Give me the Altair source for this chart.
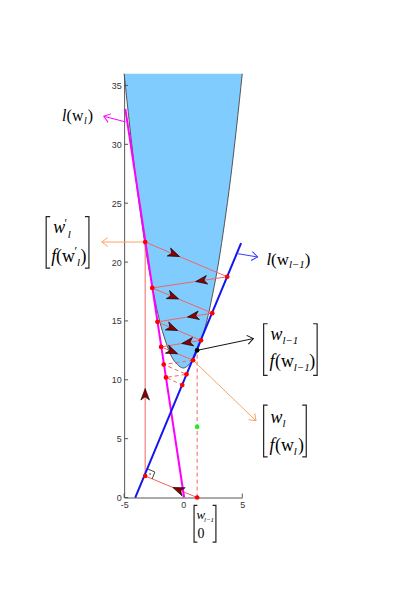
import altair as alt
import pandas as pd

# ---------------- data ----------------
curve_w = [-5, -4.5, -4, -3.5, -3, -2.5, -2, -1.5, -1, -0.5, 0,
           0.5, 1, 1.5, 2, 2.5, 3, 3.5, 4, 4.5, 5]
curve_f = [36, 31.3, 27, 23.3, 20, 17.3, 15, 13.3, 12, 11.3, 11,
           11.3, 12, 13.3, 15, 17.3, 20, 23.3, 27, 31.3, 36]
curve_top = 36

tan_prev_w = [-4.06, 4.9]      # l(w_{l-1})
tan_prev_f = [0.0, 21.6]
tan_cur_w = [-4.9, 0.08]       # l(w_l)
tan_cur_f = [33.0, 0.0]

path_w = [1.18, -3.22, -3.22, 3.73, -2.62, 2.46, -2.18, 1.51, -1.87, 0.84]
path_f = [0.0, 1.83, 21.7, 18.75, 17.8, 15.66, 14.92, 13.35, 12.79, 11.66]
dash_w = [0.84, -1.65, 0.28, -1.46, -0.08]
dash_f = [11.66, 11.3, 10.46, 10.2, 9.55]

head_w = [-0.42, -3.22, -0.76, 1.54, -0.84, 0.84, -0.92, 0.36, -0.92]
head_f = [0.67, 8.77, 20.66, 18.42, 17.05, 15.4, 14.38, 13.16, 12.4]
head_angle = [202, 270, 23, 171, 22, 171, 23, 171, 23]

w_prev = 1.18
f_prev = 12.5
green_f = 6.0

y_ticks = [0, 5, 10, 15, 20, 25, 30, 35]
x_ticks = [-5, 0, 5]

# ---------------- annotations (data coordinates) ----------------
arrow_id = ["o1", "o1", "o2", "o2", "k", "k", "b", "b", "m", "m"]
arrow_w = [-3.22, -6.89, 0.84, 6.16, 1.18, 5.94, 4.56, 6.30, -4.87, -6.72]
arrow_f = [21.7, 21.7, 11.66, 6.52, 12.5, 13.5, 20.72, 20.43, 31.9, 32.38]
arrow_col = ["#FFA060", "#FFA060", "#FFA060", "#FFA060", "#111111", "#111111",
             "#3A3AFF", "#3A3AFF", "#FF00FF", "#FF00FF"]
tip_angle = {"o1": 180, "o2": 44, "k": 349, "b": 9, "m": 198}

ra_w = [-2.99, -2.40, -2.63]
ra_f = [2.42, 2.17, 1.58]
ra_dot = (-2.80, 2.0)

# brackets: (left x, right x, top y, bottom y, serif)
brackets = [(-11.60, -7.98, 23.86, 19.48, 0.34),
            (6.81, 11.34, 14.76, 10.37, 0.34),
            (6.81, 10.42, 7.84, 3.46, 0.34),
            (0.92, 2.77, -0.67, -3.79, 0.28)]

# text pieces: (text, x, y, size, italic)
pieces = [
    ("l", -10.25, 31.96, 16, True), ("(w", -9.87, 31.96, 16, False),
    ("l", -8.40, 31.70, 10, True), (")", -8.07, 31.96, 16, False),
    ("l", 7.06, 19.73, 17, True), ("(w", 7.44, 19.73, 17, False),
    ("l\u22121", 8.95, 19.48, 11, True), (")", 10.29, 19.73, 17, False),
    ("w", -11.01, 22.43, 18, True), ("\u2032", -10.05, 23.0, 12, False),
    ("l", -9.78, 22.02, 11, True),
    ("f", -11.18, 19.98, 18, True), ("(w", -10.76, 19.98, 18, False),
    ("\u2032", -9.2, 20.62, 12, False), ("l", -8.98, 19.68, 11, True),
    (")", -8.70, 19.98, 18, False),
    ("w", 7.39, 13.41, 18, True), ("l\u22121", 8.40, 13.07, 11, True),
    ("f", 7.31, 11.05, 18, True), ("(w", 7.77, 11.05, 18, False),
    ("l\u22121", 9.37, 10.71, 11, True), (")", 10.67, 11.05, 18, False),
    ("w", 7.39, 6.32, 18, True), ("l", 8.40, 5.99, 11, True),
    ("f", 7.31, 3.96, 18, True), ("(w", 7.77, 3.96, 18, False),
    ("l", 9.37, 3.63, 11, True), (")", 9.71, 3.96, 18, False),
    ("w", 1.12, -1.85, 13, True), ("l\u22121", 1.76, -2.11, 7, True),
    ("0", 1.22, -3.46, 14, False),
]

# ---------------- tables ----------------
curve = pd.DataFrame({"w": curve_w, "f": curve_f, "top": [curve_top] * len(curve_w)})
tan_prev = pd.DataFrame({"w": tan_prev_w, "f": tan_prev_f})
tan_cur = pd.DataFrame({"w": tan_cur_w, "f": tan_cur_f})
path = pd.DataFrame({"w": path_w, "f": path_f, "i": range(len(path_w))})
dash = pd.DataFrame({"w": dash_w, "f": dash_f, "i": range(len(dash_w))})
reds = pd.DataFrame({"w": path_w + dash_w[1:], "f": path_f + dash_f[1:]})
heads = pd.DataFrame({"w": head_w, "f": head_f, "a": head_angle})
vline = pd.DataFrame({"w": [w_prev, w_prev], "f": [0.0, f_prev]})
black_pt = pd.DataFrame({"w": [w_prev], "f": [f_prev]})
green_pt = pd.DataFrame({"w": [w_prev], "f": [green_f]})
arrows = pd.DataFrame({"id": arrow_id, "w": arrow_w, "f": arrow_f, "col": arrow_col,
                       "i": list(range(len(arrow_id)))})
tips = arrows.iloc[1::2].copy()
tips["a"] = [tip_angle[k] for k in tips["id"]]
ra = pd.DataFrame({"w": ra_w, "f": ra_f, "i": [0, 1, 2]})
ra_pt = pd.DataFrame({"w": [ra_dot[0]], "f": [ra_dot[1]]})

br_rows = []
for k, (l, r, t, b, s) in enumerate(brackets):
    for j, (xx, yy) in enumerate([(l + s, t), (l, t), (l, b), (l + s, b)]):
        br_rows.append({"id": f"L{k}", "i": j, "w": xx, "f": yy})
    for j, (xx, yy) in enumerate([(r - s, t), (r, t), (r, b), (r - s, b)]):
        br_rows.append({"id": f"R{k}", "i": j, "w": xx, "f": yy})
br = pd.DataFrame(br_rows)
txt = pd.DataFrame(pieces, columns=["t", "w", "f", "s", "it"])
ticks_y = pd.DataFrame({"v": y_ticks})
ticks_x = pd.DataFrame({"v": x_ticks})

# ---------------- scales / axes ----------------
xs = alt.Scale(domain=[-5, 5], nice=False, zero=False)
ys = alt.Scale(domain=[0, 36], nice=False, zero=False)
ax_common = dict(title=None, grid=False, ticks=False, domainColor="#555555",
                 domainWidth=1, labelColor="#333333", labelFont="Liberation Sans",
                 labelFontSize=9, labelPadding=3, labelExpr="datum.value + ''",
                 labelFlush=False)
xaxis = alt.Axis(values=x_ticks, **ax_common)
yaxis = alt.Axis(values=y_ticks, **ax_common)


def X(f):
    return alt.X(f, type="quantitative", scale=xs, axis=xaxis)


def Y(f):
    return alt.Y(f, type="quantitative", scale=ys, axis=yaxis)


RED = "#F06464"
ARROW_PATH = "M1,0 L-1,-0.75 L-0.45,0 L-1,0.75 Z"
TIP_PATH = "M-1,-0.75 L0,0 L-1,0.75"

layers = [
    alt.Chart(curve).mark_area(color="#80CCFF", interpolate="monotone", opacity=1)
    .encode(x=X("w"), y=Y("f"), y2="top"),
    alt.Chart(curve).mark_line(color="#444444", strokeWidth=0.9, interpolate="monotone")
    .encode(x=X("w"), y=Y("f")),
    alt.Chart(ticks_y).mark_rule(color="#555555").encode(y=Y("v"), x=alt.value(0), x2=alt.value(4)),
    alt.Chart(ticks_x).mark_rule(color="#555555").encode(x=X("v"), y=alt.value(427), y2=alt.value(423)),
    alt.Chart(vline).mark_line(color=RED, strokeWidth=1, strokeDash=[4, 3]).encode(x=X("w"), y=Y("f")),
    alt.Chart(path).mark_line(color=RED, strokeWidth=1).encode(x=X("w"), y=Y("f"), order="i:Q"),
    alt.Chart(dash).mark_line(color=RED, strokeWidth=1, strokeDash=[4, 3]).encode(x=X("w"), y=Y("f"), order="i:Q"),
    alt.Chart(tan_cur).mark_line(color="#FF00FF", strokeWidth=2).encode(x=X("w"), y=Y("f")),
    alt.Chart(tan_prev).mark_line(color="#1414F0", strokeWidth=2).encode(x=X("w"), y=Y("f")),
    alt.Chart(ra).mark_line(color="#111111", strokeWidth=0.8).encode(x=X("w"), y=Y("f"), order="i:Q"),
    alt.Chart(ra_pt).mark_point(filled=True, color="#111111", size=2, opacity=1).encode(x=X("w"), y=Y("f")),
    alt.Chart(arrows).mark_line(strokeWidth=1).encode(
        x=X("w"), y=Y("f"), detail="id:N", order="i:Q", color=alt.Color("col:N", scale=None)),
    alt.Chart(tips).mark_point(shape=TIP_PATH, filled=False, size=144, strokeWidth=1, opacity=1).encode(
        x=X("w"), y=Y("f"), angle=alt.Angle("a:Q", scale=None), color=alt.Color("col:N", scale=None)),
    alt.Chart(heads).mark_point(shape=ARROW_PATH, filled=True, size=135, color="#8B0000",
                                stroke="#000000", strokeWidth=0.6, opacity=1).encode(
        x=X("w"), y=Y("f"), angle=alt.Angle("a:Q", scale=None)),
    alt.Chart(reds).mark_point(filled=True, shape="circle", size=22, color="#FF0000", opacity=1)
    .encode(x=X("w"), y=Y("f")),
    alt.Chart(black_pt).mark_point(filled=True, shape="circle", size=22, color="#000000", opacity=1)
    .encode(x=X("w"), y=Y("f")),
    alt.Chart(green_pt).mark_point(filled=True, shape="circle", size=22, color="#22EE22", opacity=1)
    .encode(x=X("w"), y=Y("f")),
    alt.Chart(br).mark_line(color="#222222", strokeWidth=1.2).encode(
        x=X("w"), y=Y("f"), detail="id:N", order="i:Q"),
    alt.Chart(txt[txt["it"]]).mark_text(align="left", baseline="alphabetic", font="Liberation Serif",
                                        fontStyle="italic", color="#000000").encode(
        x=X("w"), y=Y("f"), text="t:N", size=alt.Size("s:Q", scale=None)),
    alt.Chart(txt[~txt["it"]]).mark_text(align="left", baseline="alphabetic", font="Liberation Serif",
                                         color="#000000").encode(
        x=X("w"), y=Y("f"), text="t:N", size=alt.Size("s:Q", scale=None)),
]

chart = alt.layer(*layers).properties(
    width=119, height=427,
    autosize=alt.AutoSizeParams(type="none"),
    padding={"left": 117, "top": 64, "right": 170, "bottom": 90},
).configure_view(stroke=None)

chart.save("out.html", embed_options={"renderer": "svg", "actions": False})
